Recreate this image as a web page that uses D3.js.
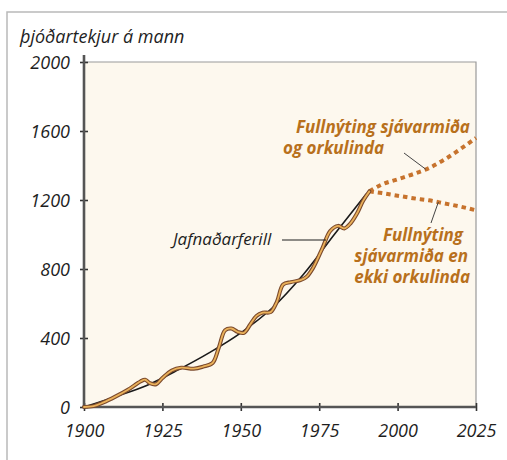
<!DOCTYPE html>
<html>
<head>
<meta charset="utf-8">
<script src="https://cdn.jsdelivr.net/npm/d3@7/dist/d3.min.js"></script>
<style>
  html, body { margin: 0; padding: 0; background: #ffffff; }
  svg { display: block; }
  text { font-family: "Open Sans", "DejaVu Sans", sans-serif; font-style: italic; }
</style>
</head>
<body>
<svg id="chart" width="507" height="460"></svg>
<script>
// National income per capita, 1900–1991, with a fitted trend and two projections to 2025
const xTicks = [1900, 1925, 1950, 1975, 2000, 2025];
const yTicks = [0, 400, 800, 1200, 1600, 2000];

const actualYears  = [1900, 1903, 1906, 1910, 1914, 1918, 1919.5, 1921, 1923, 1925, 1928, 1931, 1935, 1938, 1941, 1943, 1945, 1947, 1949, 1951, 1953, 1955, 1957, 1959.5, 1961.5, 1963.5, 1966, 1969, 1971, 1973, 1976, 1978.5, 1981, 1983, 1985, 1987, 1989, 1991];
const actualValues = [0, 5, 25, 60, 100, 148, 158, 138, 132, 168, 212, 228, 222, 234, 255, 345, 445, 455, 436, 430, 478, 528, 547, 550, 610, 710, 724, 735, 755, 805, 920, 1020, 1050, 1035, 1065, 1120, 1195, 1250];

const trendYears  = [1900, 1910, 1920, 1930, 1940, 1950, 1960, 1970, 1980, 1990];
const trendValues = [0, 60, 125, 215, 315, 430, 574, 770, 1005, 1235];

const projYears      = [1991, 1995, 2000, 2005, 2010, 2015, 2020, 2025];
const projHighValues = [1250, 1290, 1320, 1350, 1385, 1435, 1495, 1560];
const projLowValues  = [1250, 1240, 1225, 1210, 1198, 1180, 1162, 1140];

const svg = d3.select("#chart");

const x = d3.scaleLinear().domain([1900, 2025]).range([84, 476]);
const y = d3.scaleLinear().domain([0, 2000]).range([407, 62]);

// outer frame edges
svg.append("path")
  .attr("d", "M7,460 L7,12 L507,12")
  .attr("fill", "none").attr("stroke", "#b9b9b9").attr("stroke-width", 1.5);

// plot background
svg.append("rect")
  .attr("x", x(1900)).attr("y", y(2000))
  .attr("width", x(2025) - x(1900)).attr("height", y(0) - y(2000))
  .attr("fill", "#fdf8ee");

// top and right frame of the plot
svg.append("path")
  .attr("d", `M${x(1900)},${y(2000)} L${x(2025)},${y(2000)} L${x(2025)},${y(0)}`)
  .attr("fill", "none").attr("stroke", "#9a9a9a").attr("stroke-width", 1.2);

// axes
const yAxis = d3.axisLeft(y).tickValues(yTicks).tickSize(4).tickPadding(10).tickFormat(d3.format("d"));
const xAxis = d3.axisBottom(x).tickValues(xTicks).tickSize(4).tickPadding(13).tickFormat(d3.format("d"));

const gy = svg.append("g").attr("transform", `translate(${x(1900)},0)`).call(yAxis);
const gx = svg.append("g").attr("transform", `translate(0,${y(0)})`).call(xAxis);

[gy, gx].forEach(g => {
  g.select(".domain").remove();
  g.selectAll(".tick line").attr("stroke", "#333").attr("stroke-width", 1.6);
  g.selectAll(".tick text")
    .attr("fill", "#1e1e1e")
    .style("font-size", "18px");
});
// ticks cross the axis line
gy.selectAll(".tick line").attr("x1", 4).attr("x2", -4);
gx.selectAll(".tick line").attr("y1", -4).attr("y2", 4);
gy.selectAll(".tick text").attr("dy", "0.36em");
gx.selectAll(".tick text").attr("dy", "0.72em");

// axis lines
svg.append("line")
  .attr("x1", x(1900)).attr("x2", x(1900)).attr("y1", y(2000) - 7).attr("y2", y(0))
  .attr("stroke", "#555").attr("stroke-width", 2.6);
svg.append("line")
  .attr("x1", x(1900)).attr("x2", x(2025)).attr("y1", y(0)).attr("y2", y(0))
  .attr("stroke", "#555").attr("stroke-width", 2.6);

// axis title
svg.append("text")
  .attr("x", 20).attr("y", 43)
  .attr("fill", "#1e1e1e")
  .style("font-size", "18px")
  .text("þjóðartekjur á mann");

const line = d3.line().x(d => x(d[0])).y(d => y(d[1]));

// fitted trend
svg.append("path")
  .datum(d3.zip(trendYears, trendValues))
  .attr("d", line.curve(d3.curveMonotoneX))
  .attr("fill", "none").attr("stroke", "#1a1a1a").attr("stroke-width", 1.6);

// projections
const projStyle = sel => sel
  .attr("fill", "none").attr("stroke", "#c7732d").attr("stroke-width", 4)
  .attr("stroke-dasharray", "4.5,4");
svg.append("path")
  .datum(d3.zip(projYears, projHighValues))
  .attr("d", line.curve(d3.curveMonotoneX))
  .call(projStyle);
svg.append("path")
  .datum(d3.zip(projYears, projLowValues))
  .attr("d", line.curve(d3.curveMonotoneX))
  .call(projStyle);

// actual income: dark outline with a light orange core
const actual = d3.zip(actualYears, actualValues);
svg.append("path")
  .datum(actual)
  .attr("d", line.curve(d3.curveCatmullRom.alpha(0.5)))
  .attr("fill", "none").attr("stroke", "#7b4a2c").attr("stroke-width", 4)
  .attr("stroke-linejoin", "round").attr("stroke-linecap", "round");
svg.append("path")
  .datum(actual)
  .attr("d", line.curve(d3.curveCatmullRom.alpha(0.5)))
  .attr("fill", "none").attr("stroke", "#eab15a").attr("stroke-width", 1.8)
  .attr("stroke-linejoin", "round").attr("stroke-linecap", "round");

// trend label and leader
svg.append("text")
  .attr("x", 173).attr("y", 245)
  .attr("fill", "#1e1e1e")
  .style("font-size", "17px")
  .text("Jafnaðarferill");
svg.append("line")
  .attr("x1", 282).attr("x2", 326).attr("y1", 240).attr("y2", 240)
  .attr("stroke", "#1e1e1e").attr("stroke-width", 1.2);

// projection labels
const labelColor = "#b8701c";
const upper = svg.append("text")
  .attr("fill", labelColor).style("font-size", "17px").style("font-weight", "bold");
upper.append("tspan").attr("x", 296).attr("y", 133).text("Fullnýting sjávarmiða");
upper.append("tspan").attr("x", 283).attr("y", 154).text("og orkulinda");

const lower = svg.append("text")
  .attr("fill", labelColor).style("font-size", "17px").style("font-weight", "bold")
  .attr("text-anchor", "end");
lower.append("tspan").attr("x", 463).attr("y", 241).text("Fullnýting");
lower.append("tspan").attr("x", 468).attr("y", 262).text("sjávarmiða en");
lower.append("tspan").attr("x", 470).attr("y", 283).text("ekki orkulinda");

// leaders to projections
svg.append("line")
  .attr("x1", 404).attr("y1", 153).attr("x2", x(2009)).attr("y2", y(1378))
  .attr("stroke", "#444").attr("stroke-width", 1);
svg.append("line")
  .attr("x1", 431).attr("y1", 223).attr("x2", x(2013)).attr("y2", y(1188))
  .attr("stroke", "#444").attr("stroke-width", 1);
</script>
</body>
</html>
